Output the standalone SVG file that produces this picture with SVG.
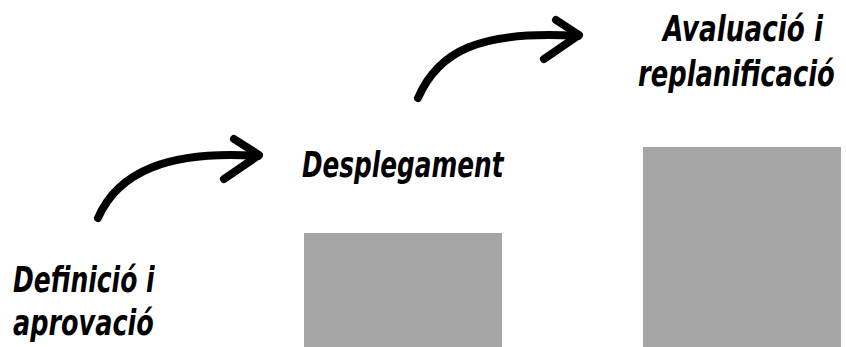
<svg xmlns="http://www.w3.org/2000/svg" width="846" height="347" viewBox="0 0 846 347">
<style>
.lbl{font-family:"Liberation Sans Narrow","DejaVu Sans Condensed","Liberation Sans",sans-serif;font-weight:bold;font-style:italic;font-size:36px;fill:#000}
.box{fill:#a6a6a6}
.arc{fill:none;stroke:#000;stroke-width:8;stroke-linecap:round;stroke-linejoin:round}
</style>
<rect width="846" height="347" fill="#fff"/>
<g id="node-definicio">
<text class="lbl" transform="translate(13,292) scale(0.8,1)" textLength="177" lengthAdjust="spacingAndGlyphs">Definició i</text>
<text class="lbl" transform="translate(13,335) scale(0.8,1)" textLength="176" lengthAdjust="spacingAndGlyphs">aprovació</text>
</g>
<g id="node-desplegament">
<rect class="box" x="304" y="233" width="198" height="114"/>
<text class="lbl" transform="translate(302,177) scale(0.8,1)" textLength="252" lengthAdjust="spacingAndGlyphs">Desplegament</text>
</g>
<g id="node-avaluacio">
<rect class="box" x="643" y="147" width="198" height="200"/>
<text class="lbl" transform="translate(663,41) scale(0.8,1)" textLength="200" lengthAdjust="spacingAndGlyphs">Avaluació i</text>
<text class="lbl" transform="translate(638,86) scale(0.8,1)" textLength="246" lengthAdjust="spacingAndGlyphs">replanificació</text>
</g>
<g id="connectors">
<path class="arc" d="M98,218 C118,172 168,150 258,156"/>
<path class="arc" d="M234,139 L259,155 L224,179"/>
<path class="arc" d="M418,98 C438,52 478,30 578,36"/>
<path class="arc" d="M556,20 L579,35 L544,59"/>
</g>
</svg>
